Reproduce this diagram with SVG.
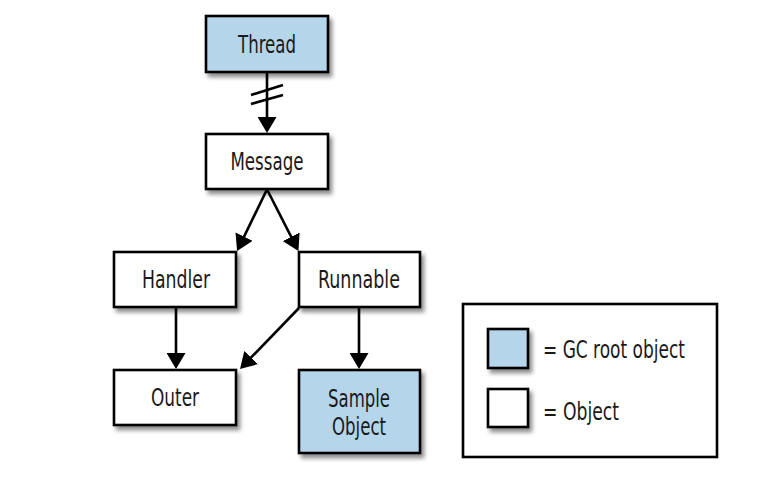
<svg xmlns="http://www.w3.org/2000/svg" width="760" height="482" viewBox="0 0 760 482">
  <defs>
    <filter id="shadow" x="-20%" y="-20%" width="150%" height="160%">
      <feDropShadow dx="3" dy="4" stdDeviation="2.2" flood-color="#000" flood-opacity="0.45"/>
    </filter>
    <marker id="arrow" viewBox="0 0 16 19" refX="10" refY="9.5" markerWidth="16" markerHeight="19" markerUnits="userSpaceOnUse" orient="auto">
      <path d="M0,0 L16,9.5 L0,19 z" fill="#000"/>
    </marker>
  </defs>
  <style>
    .box { stroke: #000; stroke-width: 2.6; filter: url(#shadow); }
    .root { fill: #b5d5ea; }
    .obj { fill: #fff; }
    .lbl { font-family: "DejaVu Sans Condensed", "Liberation Sans", sans-serif; font-size: 25px; fill: #1a1a1a; text-anchor: middle; }
    .leg { font-family: "DejaVu Sans Condensed", "Liberation Sans", sans-serif; font-size: 25px; fill: #1a1a1a; }
    .conn { stroke: #000; stroke-width: 2.6; fill: none; }
    .arr { marker-end: url(#arrow); }
  </style>
  <rect width="760" height="482" fill="#fff"/>

  <g id="thread">
    <rect class="box root" x="206" y="16" width="122" height="56"/>
    <text class="lbl" x="267" y="53" textLength="58" lengthAdjust="spacingAndGlyphs">Thread</text>
  </g>
  <g id="message">
    <rect class="box obj" x="206" y="134" width="122" height="55"/>
    <text class="lbl" x="267" y="170" textLength="73" lengthAdjust="spacingAndGlyphs">Message</text>
  </g>
  <g id="handler">
    <rect class="box obj" x="114" y="252" width="122" height="55"/>
    <text class="lbl" x="176" y="288" textLength="68" lengthAdjust="spacingAndGlyphs">Handler</text>
  </g>
  <g id="runnable">
    <rect class="box obj" x="299" y="252" width="121" height="55"/>
    <text class="lbl" x="359" y="288" textLength="82" lengthAdjust="spacingAndGlyphs">Runnable</text>
  </g>
  <g id="outer">
    <rect class="box obj" x="114" y="370" width="122" height="55"/>
    <text class="lbl" x="175" y="406" textLength="48" lengthAdjust="spacingAndGlyphs">Outer</text>
  </g>
  <g id="sample-object">
    <rect class="box root" x="299" y="370" width="121" height="83"/>
    <text class="lbl" x="359" y="407" textLength="62" lengthAdjust="spacingAndGlyphs">Sample</text>
    <text class="lbl" x="359" y="435" textLength="54" lengthAdjust="spacingAndGlyphs">Object</text>
  </g>

  <g id="connectors">
    <line class="conn arr" x1="267" y1="73" x2="267" y2="127"/>
    <line class="conn" x1="251" y1="95" x2="283" y2="85"/>
    <line class="conn" x1="251" y1="104" x2="283" y2="95"/>
    <line class="conn arr" x1="266.7" y1="190" x2="239.7" y2="245.6"/>
    <line class="conn arr" x1="267.3" y1="190" x2="295.7" y2="245.7"/>
    <line class="conn arr" x1="176" y1="308" x2="176" y2="363"/>
    <line class="conn arr" x1="359" y1="308" x2="359" y2="363"/>
    <line class="conn arr" x1="299" y1="308" x2="244.2" y2="364.7"/>
  </g>

  <g id="legend">
    <rect x="463" y="304" width="254" height="153" fill="#fff" stroke="#000" stroke-width="2.6"/>
    <rect class="box root" x="488" y="329" width="40" height="39"/>
    <text class="leg" x="543" y="358" textLength="142" lengthAdjust="spacingAndGlyphs">= GC root object</text>
    <rect class="box obj" x="488" y="389" width="40" height="38"/>
    <text class="leg" x="543" y="420" textLength="76" lengthAdjust="spacingAndGlyphs">= Object</text>
  </g>
</svg>
